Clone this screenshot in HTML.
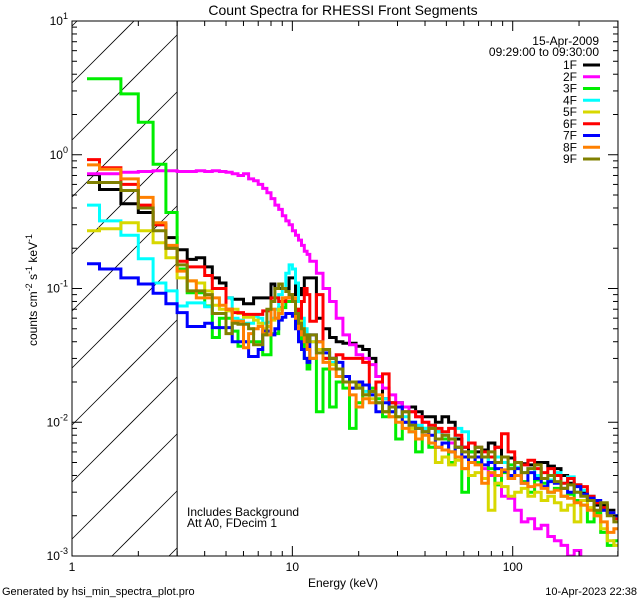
<!DOCTYPE html>
<html><head><meta charset="utf-8"><style>
html,body{margin:0;padding:0;background:#fff;width:640px;height:600px;overflow:hidden;}
svg{display:block;font-family:"Liberation Sans",sans-serif;overflow:hidden;}
</style></head><body>
<svg id="chart" width="640" height="600" viewBox="0 0 640 600">
<rect x="0" y="0" width="640" height="600" fill="#fff"/>
<text x="343" y="15" text-anchor="middle" font-size="14">Count Spectra for RHESSI Front Segments</text>
<g id="hatch"></g>
<g id="series"></g>
<g id="axes"></g>
<g id="legend"></g>
<text x="187" y="516" font-size="12">Includes Background</text>
<text x="187" y="527" font-size="12">Att A0, FDecim 1</text>
<text x="343" y="587" text-anchor="middle" font-size="12">Energy (keV)</text>
<text transform="translate(37,290) rotate(-90)" text-anchor="middle" font-size="12">counts cm<tspan dy="-5" font-size="9">-2</tspan><tspan dy="5"> s</tspan><tspan dy="-5" font-size="9">-1</tspan><tspan dy="5"> keV</tspan><tspan dy="-5" font-size="9">-1</tspan></text>
<text x="2" y="595" font-size="11">Generated by hsi_min_spectra_plot.pro</text>
<text x="637" y="595" text-anchor="end" font-size="11">10-Apr-2023 22:38</text>
</svg>
<script>
// ---- data ----
const segmentLabels = ["1F","2F","3F","4F","5F","6F","7F","8F","9F"];
const segmentColors = ["#000000","#ff00ff","#00ee00","#00ffff","#d8d800","#ff0000","#0000ff","#ff8000","#808000"];
const xTicks = [1,10,100];
const xTickLabels = ["1","10","100"];
const yTicks = [-3,-2,-1,0,1];
const dateLabel = "15-Apr-2009";
const timeLabel = "09:29:00 to 09:30:00";
// low-energy bins (1/3 keV) values
const low1F=[0.71,0.55,0.43,0.37,0.30,0.24,0.195,0.165,0.17,0.145,0.12,0.11,0.085,0.083,0.083,0.077,0.077,0.085,0.085,0.085,0.085,0.108,0.1,0.1,0.1,0.1,0.12,0.12,0.09,0.09,0.1,0.12,0.12];
const low2F=[0.72,0.72,0.74,0.75,0.76,0.76,0.75,0.75,0.76,0.75,0.76,0.75,0.74,0.72,0.7,0.72,0.66,0.64,0.6,0.56,0.52,0.47,0.42,0.39,0.35,0.32,0.3,0.27,0.25,0.23,0.21,0.19,0.18];
const low3F=[3.7,3.7,2.85,1.75,0.85,0.37,0.14,0.093,0.093,0.074,0.043,0.06,0.06,0.048,0.037,0.04,0.04,0.04,0.04,0.032,0.032,0.046,0.046,0.072,0.072,0.08,0.08,0.08,0.07,0.06,0.04,0.03,0.025];
const low4F=[0.42,0.32,0.25,0.167,0.11,0.096,0.074,0.078,0.078,0.073,0.065,0.065,0.085,0.06,0.058,0.055,0.055,0.062,0.06,0.055,0.056,0.06,0.07,0.09,0.1,0.13,0.15,0.14,0.11,0.08,0.06,0.05,0.045];
const low5F=[0.27,0.28,0.31,0.27,0.22,0.17,0.12,0.114,0.11,0.096,0.075,0.07,0.068,0.07,0.065,0.061,0.061,0.058,0.055,0.05,0.052,0.058,0.06,0.07,0.08,0.085,0.09,0.085,0.07,0.06,0.05,0.045,0.04];
const low6F=[0.92,0.8,0.6,0.42,0.3,0.2,0.16,0.145,0.145,0.125,0.1,0.1,0.07,0.066,0.066,0.064,0.064,0.064,0.064,0.068,0.068,0.085,0.085,0.08,0.08,0.085,0.09,0.08,0.07,0.06,0.08,0.1,0.09];
const low7F=[0.153,0.14,0.12,0.108,0.092,0.077,0.066,0.052,0.052,0.055,0.051,0.051,0.051,0.04,0.04,0.04,0.031,0.031,0.035,0.048,0.048,0.045,0.05,0.058,0.061,0.065,0.065,0.062,0.05,0.04,0.035,0.03,0.028];
const low8F=[0.84,0.78,0.66,0.48,0.31,0.21,0.135,0.114,0.085,0.085,0.085,0.075,0.07,0.057,0.057,0.036,0.046,0.05,0.052,0.046,0.045,0.07,0.06,0.065,0.085,0.085,0.09,0.085,0.06,0.05,0.045,0.04,0.035];
const low9F=[0.62,0.62,0.54,0.4,0.27,0.2,0.15,0.096,0.096,0.09,0.065,0.065,0.046,0.055,0.054,0.054,0.05,0.038,0.038,0.045,0.07,0.08,0.1,0.108,0.1,0.095,0.09,0.08,0.065,0.055,0.05,0.045,0.04];
// high-energy bins (log-spaced) values
const high1F=[0.12,0.06,0.05,0.043,0.04,0.039,0.039,0.037,0.035,0.03,0.022,0.015,0.014,0.014,0.013,0.013,0.012,0.011,0.011,0.01,0.011,0.01,0.0075,0.0065,0.006,0.006,0.0062,0.007,0.0065,0.0055,0.0054,0.005,0.0049,0.0048,0.005,0.005,0.0047,0.0045,0.004,0.0035,0.0034,0.003,0.0026,0.0024,0.0024,0.0022,0.002];
const high2F=[0.16,0.13,0.1,0.08,0.06,0.045,0.038,0.032,0.03,0.027,0.022,0.018,0.016,0.014,0.013,0.012,0.011,0.01,0.009,0.0085,0.0075,0.007,0.0065,0.006,0.0055,0.005,0.0045,0.004,0.0035,0.0028,0.0027,0.0022,0.0018,0.0019,0.0016,0.0017,0.0014,0.0013,0.0012,0.001,0.0011,0.0009,0.0009,0.0008,0.0008,0.0008,0.0008];
const high3F=[0.03,0.012,0.025,0.013,0.02,0.018,0.009,0.014,0.016,0.018,0.015,0.011,0.013,0.0075,0.01,0.0085,0.006,0.009,0.0065,0.0085,0.0075,0.005,0.0065,0.003,0.006,0.005,0.0055,0.0045,0.0034,0.0042,0.0048,0.004,0.0036,0.003,0.0037,0.0035,0.003,0.0032,0.0028,0.0029,0.0026,0.0024,0.0018,0.0021,0.0015,0.0012,0.0013];
const high4F=[0.04,0.035,0.03,0.028,0.025,0.022,0.02,0.018,0.017,0.016,0.014,0.015,0.012,0.013,0.011,0.01,0.0095,0.009,0.0095,0.0085,0.008,0.0075,0.009,0.0085,0.007,0.0065,0.0055,0.005,0.0055,0.005,0.0045,0.0046,0.0042,0.0045,0.004,0.0038,0.0037,0.0042,0.0035,0.0039,0.003,0.0031,0.0028,0.0025,0.0022,0.0021,0.002];
const high5F=[0.04,0.035,0.03,0.027,0.025,0.022,0.02,0.019,0.016,0.015,0.014,0.012,0.011,0.011,0.01,0.009,0.0075,0.0085,0.007,0.005,0.0055,0.0048,0.0052,0.0045,0.004,0.0042,0.0038,0.0022,0.0035,0.0033,0.0028,0.003,0.0032,0.0028,0.003,0.0026,0.0028,0.0025,0.0022,0.0024,0.0018,0.0026,0.0023,0.002,0.0016,0.0013,0.0012];
const high6F=[0.057,0.09,0.03,0.03,0.032,0.03,0.03,0.03,0.028,0.017,0.02,0.023,0.014,0.013,0.012,0.012,0.011,0.01,0.0095,0.009,0.0085,0.009,0.008,0.0065,0.007,0.0065,0.006,0.0055,0.0065,0.0082,0.006,0.005,0.0048,0.0052,0.0045,0.0042,0.0045,0.004,0.0035,0.0038,0.0034,0.0033,0.0028,0.0025,0.0023,0.0021,0.0019];
const high7F=[0.045,0.04,0.033,0.03,0.028,0.022,0.018,0.02,0.019,0.016,0.012,0.014,0.012,0.013,0.01,0.01,0.009,0.0085,0.008,0.0065,0.007,0.006,0.0065,0.0055,0.005,0.0055,0.0048,0.005,0.0045,0.0043,0.004,0.0045,0.0035,0.0042,0.0038,0.0033,0.0036,0.0035,0.0032,0.003,0.0033,0.0029,0.0027,0.0026,0.0022,0.0021,0.002];
const high8F=[0.03,0.04,0.028,0.025,0.022,0.02,0.016,0.013,0.015,0.014,0.016,0.012,0.011,0.01,0.009,0.0085,0.0075,0.008,0.007,0.0065,0.0062,0.006,0.0055,0.0045,0.005,0.0048,0.0035,0.0042,0.004,0.0044,0.0038,0.004,0.0035,0.0033,0.0034,0.0032,0.003,0.0031,0.0028,0.0027,0.0025,0.0024,0.0022,0.002,0.0018,0.0015,0.0016];
const high9F=[0.045,0.033,0.035,0.03,0.025,0.02,0.02,0.018,0.016,0.017,0.014,0.012,0.013,0.011,0.012,0.0095,0.009,0.0085,0.009,0.0075,0.008,0.0075,0.0065,0.006,0.0055,0.0065,0.0055,0.006,0.005,0.0055,0.0045,0.005,0.0042,0.0045,0.0048,0.0038,0.004,0.0036,0.0032,0.0034,0.003,0.0028,0.0026,0.0022,0.0025,0.002,0.0018];

// ---- layout ----
const NS="http://www.w3.org/2000/svg";
const L=72,R=618,T=21,B=556;
const xMin=0, xMax=Math.log10(300.5);
const yMin=-3, yMax=1;
function xs(e){return L+(Math.log10(e)-xMin)/(xMax-xMin)*(R-L);}
function ys(v){let lv=Math.log10(Math.max(v,1e-6));return B-(lv-yMin)/(yMax-yMin)*(B-T);}
function mk(tag,attrs,parent){const el=document.createElementNS(NS,tag);for(const k in attrs)el.setAttribute(k,attrs[k]);parent.appendChild(el);return el;}

// energy bin edges
const edges=[1.17];
for(let e=4;e<=36;e++)edges.push(e/3);
for(let k=1;k<=47;k++)edges.push(Math.min(12*Math.pow(10,0.03*k),300.5));

const svg=document.getElementById('chart');
const defs=mk('defs',{},svg);
const cp=mk('clipPath',{id:'plotclip'},defs);
mk('rect',{x:L,y:T,width:R-L,height:B-T},cp);

// hatch (lines of slope -1, computed inside the box)
const hatch=document.getElementById('hatch');
const xh=xs(3);
for(let c=83-57*3;c<B+(xh-L)+60;c+=57){
  const s=c+L;
  let x1=Math.max(L,s-B), x2=Math.min(xh,s-T);
  if(x2<=x1)continue;
  const ln=mk('line',{x1:x1,y1:s-x1,x2:x2,y2:s-x2,stroke:'#000','stroke-width':0.8},hatch);
  
  
}
const vl=mk('line',{x1:xh,y1:T,x2:xh,y2:B,stroke:'#000','stroke-width':1},hatch);



// series
const lows=[low1F,low2F,low3F,low4F,low5F,low6F,low7F,low8F,low9F];
const highs=[high1F,high2F,high3F,high4F,high5F,high6F,high7F,high8F,high9F];
const sg=document.getElementById('series');
const sc=mk('g',{'clip-path':'url(#plotclip)'},sg);
for(let s=0;s<9;s++){
  const vals=lows[s].concat(highs[s]);
  let d='';
  for(let i=0;i<vals.length&&i+1<edges.length;i++){
    const x0=xs(edges[i]).toFixed(1),x1=xs(edges[i+1]).toFixed(1),y=Math.min(ys(vals[i]),B+2).toFixed(1);
    d+=(i===0?'M':'L')+x0+' '+y+'L'+x1+' '+y;
  }
  const p=mk('path',{d:d,fill:'none',stroke:segmentColors[s],'stroke-width':3,'stroke-linejoin':'miter'},sc);
  
  
}

// axes
const ax=document.getElementById('axes');
const fr=mk('rect',{x:L,y:T,width:R-L,height:B-T,fill:'none',stroke:'#000','stroke-width':1},ax);


for(let dec=0;dec<3;dec++){
  for(let m=1;m<=9;m++){
    const e=m*Math.pow(10,dec); if(e>300)break;
    const x=xs(e); const len=(m===1)?10:5;
    mk('line',{x1:x,y1:B,x2:x,y2:B-len,stroke:'#000'},ax);
    mk('line',{x1:x,y1:T,x2:x,y2:T+len,stroke:'#000'},ax);
  }
}
xTicks.forEach((t,i)=>{
  const tx=mk('text',{x:xs(t),y:B+15,'text-anchor':'middle','font-size':12},ax);
  tx.textContent=xTickLabels[i];
  
  
});
for(let dec=-3;dec<1;dec++){
  for(let m=1;m<=9;m++){
    const y=ys(m*Math.pow(10,dec)); const len=(m===1)?10:5;
    mk('line',{x1:L,y1:y,x2:L+len,y2:y,stroke:'#000'},ax);
    mk('line',{x1:R,y1:y,x2:R-len,y2:y,stroke:'#000'},ax);
  }
}
yTicks.forEach(t=>{
  const y=ys(Math.pow(10,t));
  const tx=mk('text',{x:L-4,y:y+4,'text-anchor':'end','font-size':12},ax);
  
  
  const a=mk('tspan',{},tx);a.textContent='10';
  const b=mk('tspan',{dy:-6,'font-size':9},tx);b.textContent=String(t);
});

// legend
const lg=document.getElementById('legend');
const ta=mk('text',{x:599,y:45,'text-anchor':'end','font-size':12},lg);ta.textContent=dateLabel;


const tb=mk('text',{x:599,y:56,'text-anchor':'end','font-size':12},lg);tb.textContent=timeLabel;


segmentLabels.forEach((lab,i)=>{
  const y=65+i*11.75;
  const g=mk('g',{},lg);
  
  
  const t=mk('text',{x:577,y:y+4,'text-anchor':'end','font-size':12},g);t.textContent=lab;
  mk('line',{x1:583,y1:y,x2:600,y2:y,stroke:segmentColors[i],'stroke-width':3},g);
});
</script>
</body></html>
